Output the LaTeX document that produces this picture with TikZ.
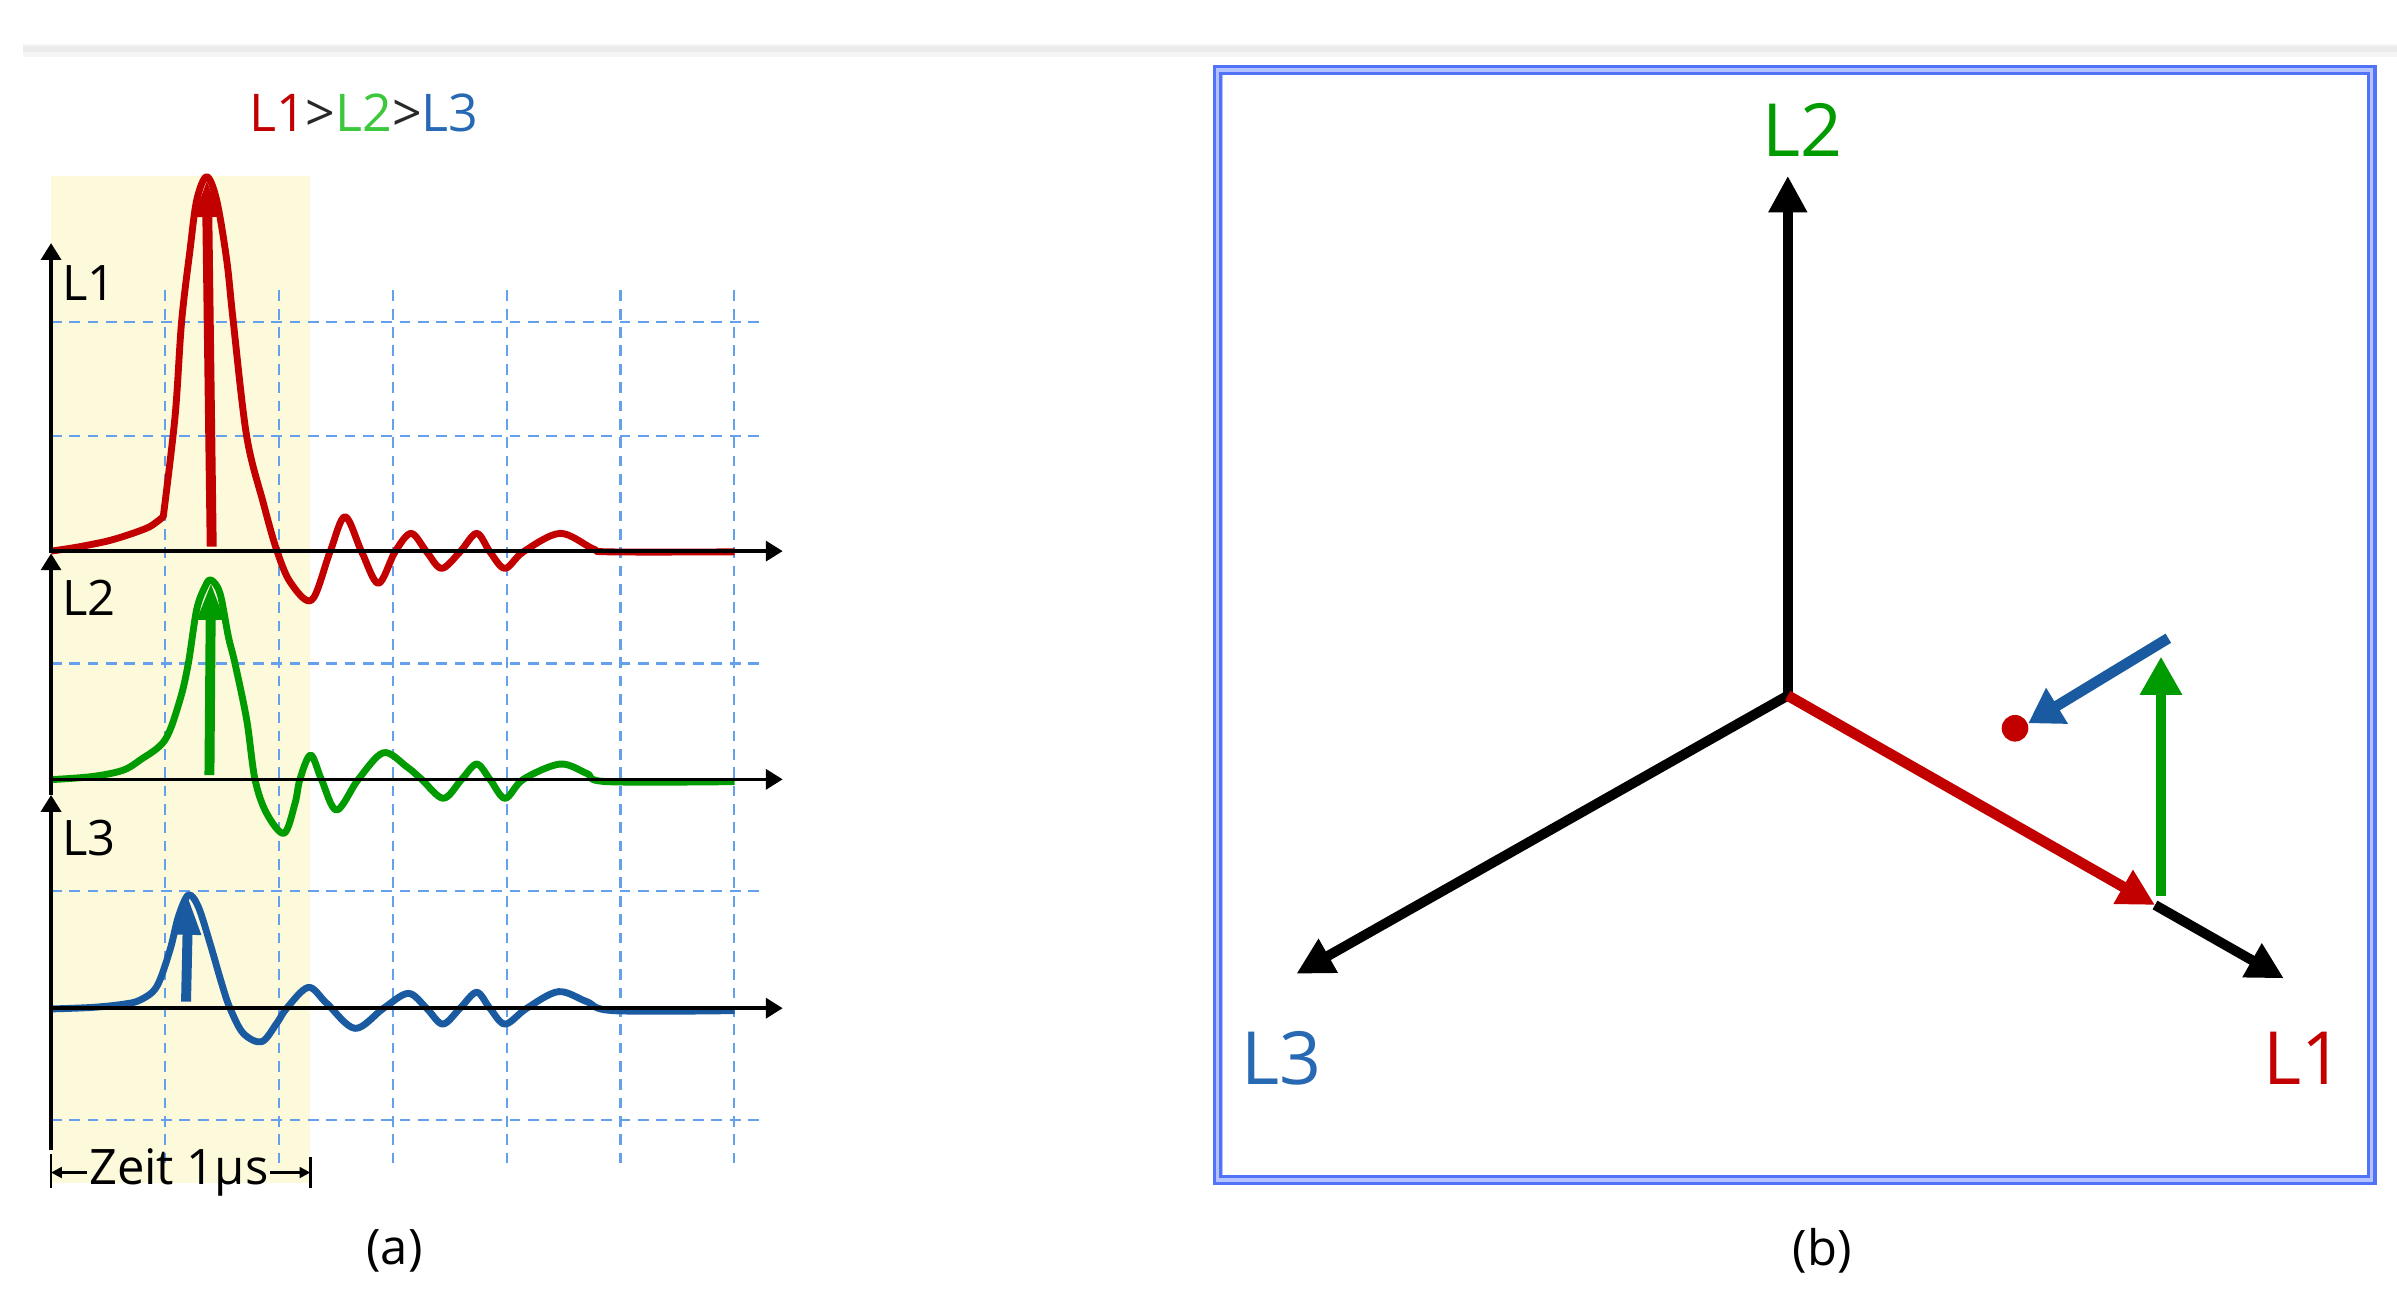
\documentclass[tikz,border=0pt]{standalone}
\usepackage{fontspec}
\setmainfont{Open Sans}
\usetikzlibrary{arrows.meta}
\definecolor{cred}{RGB}{195,0,0}
\definecolor{cgreen}{RGB}{0,155,0}
\definecolor{cgreenT}{RGB}{60,200,60}
\definecolor{cblue}{RGB}{25,90,160}
\definecolor{cblueT}{RGB}{40,105,180}
\definecolor{cgrid}{RGB}{100,160,235}
\definecolor{cyellow}{RGB}{252,250,218}
\definecolor{cbox}{RGB}{80,115,250}
\definecolor{cboxlight}{RGB}{180,195,255}
\definecolor{cgt}{RGB}{40,40,40}
\tikzset{
  gridline/.style={cgrid, line width=1.4pt, dash pattern=on 7pt off 5pt},
  axisline/.style={black, line width=2.4pt, -{Triangle[length=11pt,width=13pt]}},
  wave/.style={line width=4.5pt, line join=round},
  peakarrow/.style={line width=6.5pt, -{Triangle[length=25pt,width=16pt]}},
  vecline/.style={black, line width=6.5pt, -{Triangle[length=24pt,width=24pt]}},
  lbl/.style={font=\fontsize{32}{38}\selectfont, inner sep=0pt},
  biglbl/.style={font=\fontsize{48}{56}\selectfont, inner sep=0pt},
}
\begin{document}
\begin{tikzpicture}[x=1pt,y=-1pt]
\fill[white] (0,0) rectangle (1568,846);
\useasboundingbox (0,0) rectangle (1568,846);
\fill[black!4] (15,29) rectangle (1568,37);
\fill[black!8] (15,30) rectangle (1568,34);

% ---------- panel (a) ----------
\fill[cyellow] (33.4,115) rectangle (203,774);
\foreach \x in {107.9,182.4,256.9,331.4,405.9,480.4}
  \draw[gridline] (\x,190) -- (\x,764);
\foreach \y in {210.4,285.4,434,582.8,732.5}
  \draw[gridline] (33.4,\y) -- (500.6,\y);

% L1 wave
\draw[cred, wave] plot[smooth, tension=0.5] coordinates {(33.4,360.5) (50,358) (70,354) (85,349.5) (98,344.5) (106.8,338)}
  -- plot[smooth, tension=0.55] coordinates {(106.8,338) (114.5,272.6) (118.8,210.4) (124.3,163.5) (128.7,130.8) (135.2,115.6) (141.7,130.8) (148.3,170.1) (152.6,210.4) (161.4,285.6) (172.3,329.2) (181,359.8) (190,381) (203.9,392.5) (215.9,360.9) (225.7,338) (236.6,361) (247.5,381.6) (258.4,361) (268.9,348.9) (279.1,361) (288.9,371.8) (300.9,361) (311.8,348.9) (320.5,361) (330.3,371.8) (342.3,361) (366.3,348.9) (388,359) (399,361) (480.5,361)};
% L2 wave
\draw[cgreen, wave] plot[smooth, tension=0.55] coordinates {(33.4,510) (60,508) (80,504) (91.6,497.2) (107.9,484.1) (117.7,457.9) (123.2,433.9) (128.6,399) (134.1,383.8) (138,379.4) (143.9,388.1) (149.4,416.5) (153.7,433.9) (161.4,471) (166.8,509.8) (174.4,532) (185.8,545.1) (193,525.5) (196.2,509.8) (203.2,493.9) (210.4,510.2) (220.2,529.9) (234.4,509.8) (250.8,492.4) (266,501.5) (275.8,509.8) (290,522.2) (302,509.8) (311.8,499.8) (320.5,509.8) (330.4,522.2) (342.3,509.8) (366.3,499.8) (383.8,505.9) (396.9,511.3) (480.5,511.3)};
% L3 wave
\draw[cblue, wave] plot[smooth, tension=0.55] coordinates {(33.4,660) (60,659) (80,657) (91.6,654.2) (102.5,645.4) (111.2,621.4) (116.7,599.6) (123.2,585.5) (129.7,593.1) (137.4,617.1) (145,643.3) (150.5,659.6) (159.2,676) (171.2,681.4) (181,669.4) (187.5,659.6) (201.7,645.9) (213.7,656.3) (232.2,672.7) (250.8,659.6) (267.1,649.8) (279.1,659.6) (289.6,669.9) (300.9,659.6) (311.8,649.1) (320.5,659.6) (330.4,669.9) (344.5,659.6) (365.2,648.7) (383.8,655.2) (401.2,661.1) (480.5,661.1)};

% axes
\draw[axisline] (33.4,360.5) -- (512,360.5);
\draw[axisline] (33.4,509.8) -- (512,509.8);
\draw[axisline] (33.4,659.5) -- (512,659.5);
\draw[axisline] (33.4,752) -- (33.4,520);
\draw[axisline] (33.4,520) -- (33.4,362);
\draw[axisline] (33.4,362) -- (33.4,159);

% peak arrows
\draw[cred, peakarrow] (138.5,357.6) -- (135.3,117);
\draw[cgreen, peakarrow] (137,507) -- (138,380.5);
\draw[cblue, peakarrow] (121.7,655.2) -- (123.2,586.5);

% labels
\node[lbl, anchor=west] (la1) at (40.5,185.4) {L1};
\node[lbl, anchor=west] (la2) at (40.5,391) {L2};
\node[lbl, anchor=west] (la3) at (40.5,548) {L3};
\node[font=\fontsize{34}{40}\selectfont, inner sep=0pt] (title) at (238,74)
  {\textcolor{cred}{L1}\textcolor{cgt}{>}\textcolor{cgreenT}{L2}\textcolor{cgt}{>}\textcolor{cblueT}{L3}};

% Zeit dimension
\node[lbl, inner sep=1pt] (zeit) at (117,767) {Zeit 1µs};
\coordinate (zl) at (33.4,767);
\coordinate (zr) at (203,767);
\draw[black, line width=1.6pt, -{Triangle[length=7pt,width=7pt]}] (zeit.west) -- (zl);
\draw[black, line width=1.6pt, -{Triangle[length=7pt,width=7pt]}] (zeit.east) -- (zr);
\draw[black, line width=1.6pt] (33.4,755) -- (33.4,777);
\draw[black, line width=1.6pt] (203,757) -- (203,777);

\node[lbl] (capa) at (258,818) {(a)};

% ---------- panel (b) ----------
\draw[cboxlight, line width=6.5pt] (796.5,45.7) rectangle (1551.5,771.8);
\draw[cbox, line width=2.2pt] (794.5,43.5) rectangle (1553.5,774);
\draw[cbox, line width=2pt] (798.5,48) rectangle (1549.5,769.5);

\coordinate (O) at (1169.5,455);
\coordinate (T2) at (1169.5,115);
\coordinate (T3) at (848,637);
\coordinate (T1) at (1494,640);
\coordinate (R) at (1409.7,592);
\draw[vecline] (O) -- (T2);
\draw[vecline] (O) -- (T3);
\draw[vecline] (R) -- (T1);
\draw[cred, line width=7pt, -{Triangle[length=24pt,width=24pt]}] (O) -- (R);
\coordinate (G0) at (1413.6,586);
\coordinate (G1) at (1413.6,429.5);
\draw[cgreen, line width=7pt, -{Triangle[length=25pt,width=26pt]}] (G0) -- (G1);
\coordinate (B0) at (1418.4,417.5);
\coordinate (B1) at (1326.8,473.1);
\draw[cblue, line width=7pt, -{Triangle[length=22pt,width=26pt]}] (B0) -- (B1);
\fill[cred] (1318.1,476.4) circle (8.7);

\node[biglbl, text=cgreen] (lb2) at (1179,85) {L2};
\node[biglbl, text=cblueT] (lb3) at (838,692) {L3};
\node[biglbl, text=cred] (lb1) at (1507,692) {L1};

\node[lbl] (capb) at (1192,818) {(b)};
\end{tikzpicture}
\end{document}
